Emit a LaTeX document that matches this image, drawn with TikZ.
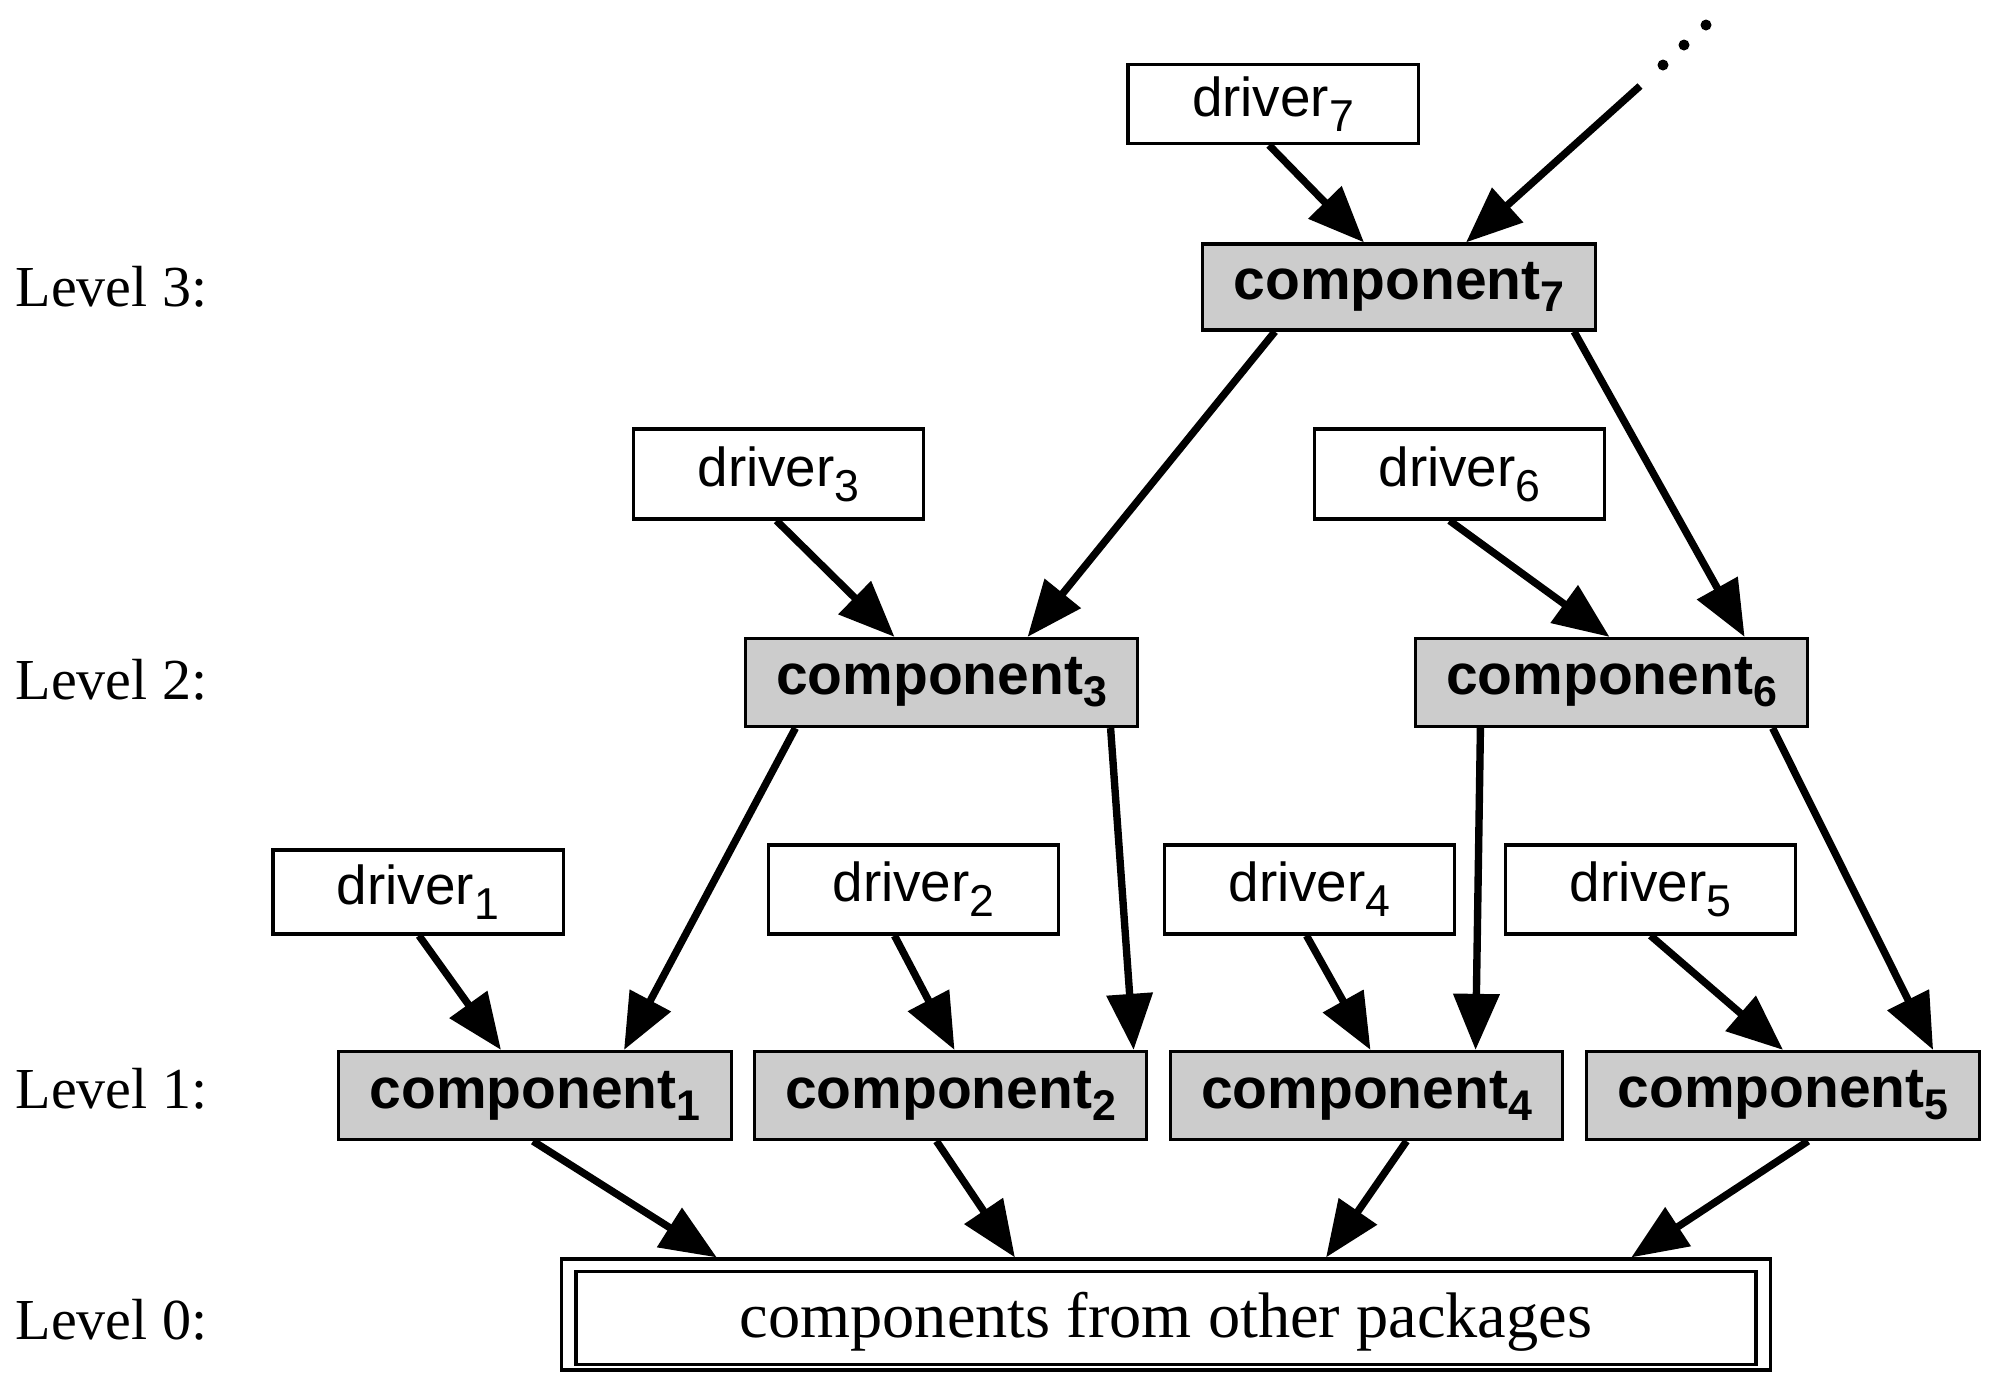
\documentclass[tikz,border=0pt]{standalone}
\usepackage{fontspec}
\setmainfont{Liberation Serif}
\setsansfont{Liberation Sans}
\usetikzlibrary{arrows.meta,calc}
\newcommand\dsub[1]{\raisebox{-0.27em}{\fontsize{12.7}{13}\selectfont #1}}
\newcommand\csub[1]{\raisebox{-0.21em}{\fontsize{12.2}{13}\selectfont #1}}
\begin{document}
\begin{tikzpicture}[x=0.01cm,y=-0.01cm,
  drv/.style={draw, line width=0.9pt, fill=white, inner sep=0pt, minimum width=2.9cm, minimum height=0.86cm, font=\sffamily\fontsize{15.6}{16}\selectfont},
  comp/.style={draw, line width=0.9pt, fill=black!20, inner sep=0pt, minimum width=3.92cm, minimum height=0.88cm, font=\sffamily\bfseries\fontsize{16.2}{17}\selectfont},
  lvl/.style={anchor=west, inner sep=0pt, font=\rmfamily\fontsize{16.5}{18}\selectfont},
  dep/.style={line width=2.1pt, -{Triangle[length=0.56cm,width=0.45cm]}},
  dot/.style={fill=black},
]
\useasboundingbox (0,0) rectangle (1990,1372);

% level labels
\node[lvl] (l3) at (15,287) {Level 3:};
\node[lvl] (l2) at (15,680) {Level 2:};
\node[lvl] (l1) at (15,1089) {Level 1:};
\node[lvl] (l0) at (15,1320) {Level 0:};

% drivers and components
\node[drv, minimum height=0.79cm] (d7) at (1273,104) {driver\dsub{7}};
\node[comp, minimum height=0.86cm] (c7) at (1399,287) {component\csub{7}};
\node[drv, minimum height=0.9cm] (d3) at (778.5,474) {driver\dsub{3}};
\node[drv, minimum height=0.9cm] (d6) at (1459.5,474) {driver\dsub{6}};
\node[comp] (c3) at (941.5,682.5) {component\csub{3}};
\node[comp] (c6) at (1611.5,682.5) {component\csub{6}};
\node[drv, minimum height=0.84cm] (d1) at (418,892) {driver\dsub{1}};
\node[drv, minimum height=0.89cm] (d2) at (913.5,889.5) {driver\dsub{2}};
\node[drv, minimum height=0.89cm] (d4) at (1309.5,889.5) {driver\dsub{4}};
\node[drv, minimum height=0.89cm] (d5) at (1650.5,889.5) {driver\dsub{5}};
\node[comp] (c1) at (535,1095.5) {component\csub{1}};
\node[comp] (c2) at (950.5,1095.5) {component\csub{2}};
\node[comp] (c4) at (1366.5,1095.5) {component\csub{4}};
\node[comp] (c5) at (1783,1095.5) {component\csub{5}};

% bottom double box
\node[draw, line width=0.9pt, inner sep=0pt, minimum width=12.08cm, minimum height=1.11cm,
      text height=17.5pt, text depth=4.2pt,
      font=\rmfamily\fontsize{18.3}{20}\selectfont] (b0) at (1166,1314.5) {components from other packages};
\draw[line width=0.9pt] ([shift={(0.16cm,-0.14cm)}]b0.north west) rectangle ([shift={(-0.16cm,0.07cm)}]b0.south east);

% continuation dots
\coordinate (more) at (1640,86);
\fill[dot] (1663,65) circle[radius=0.055cm];
\fill[dot] (1684,45) circle[radius=0.055cm];
\fill[dot] (1706,25) circle[radius=0.055cm];

% dependencies
\draw[dep] ([xshift=-0.04cm]d7.south) -- ([xshift=-0.35cm]c7.north);
\draw[dep] (more) -- ([xshift=0.67cm]c7.north);
\draw[dep] ([xshift=-1.24cm]c7.south) -- ([xshift=0.86cm]c3.north);
\draw[dep] ([xshift=1.75cm]c7.south) -- ([xshift=1.33cm]c6.north);
\draw[dep] ([xshift=-0.02cm]d3.south) -- ([xshift=-0.47cm]c3.north);
\draw[dep] ([xshift=-0.10cm]d6.south) -- ([xshift=-0.02cm]c6.north);
\draw[dep] ([xshift=-1.46cm]c3.south) -- ([xshift=0.89cm]c1.north);
\draw[dep] ([xshift=1.69cm]c3.south) -- ([xshift=1.83cm]c2.north);
\draw[dep] ([xshift=-1.31cm]c6.south) -- ([xshift=1.09cm]c4.north);
\draw[dep] ([xshift=1.61cm]c6.south) -- ([xshift=1.50cm]c5.north);
\draw[dep] ([xshift=0.01cm]d1.south) -- ([xshift=-0.34cm]c1.north);
\draw[dep] ([xshift=-0.19cm]d2.south) -- ([xshift=0.04cm]c2.north);
\draw[dep] ([xshift=-0.03cm]d4.south) -- ([xshift=0.04cm]c4.north);
\draw[dep] (d5.south) -- (c5.north);
\draw[dep] ([xshift=-0.02cm]c1.south) -- ([xshift=-4.49cm]b0.north);
\draw[dep] ([xshift=-0.14cm]c2.south) -- ([xshift=-1.51cm]b0.north);
\draw[dep] ([xshift=0.40cm]c4.south) -- ([xshift=1.60cm]b0.north);
\draw[dep] ([xshift=0.25cm]c5.south) -- ([xshift=4.65cm]b0.north);
\end{tikzpicture}
\end{document}
